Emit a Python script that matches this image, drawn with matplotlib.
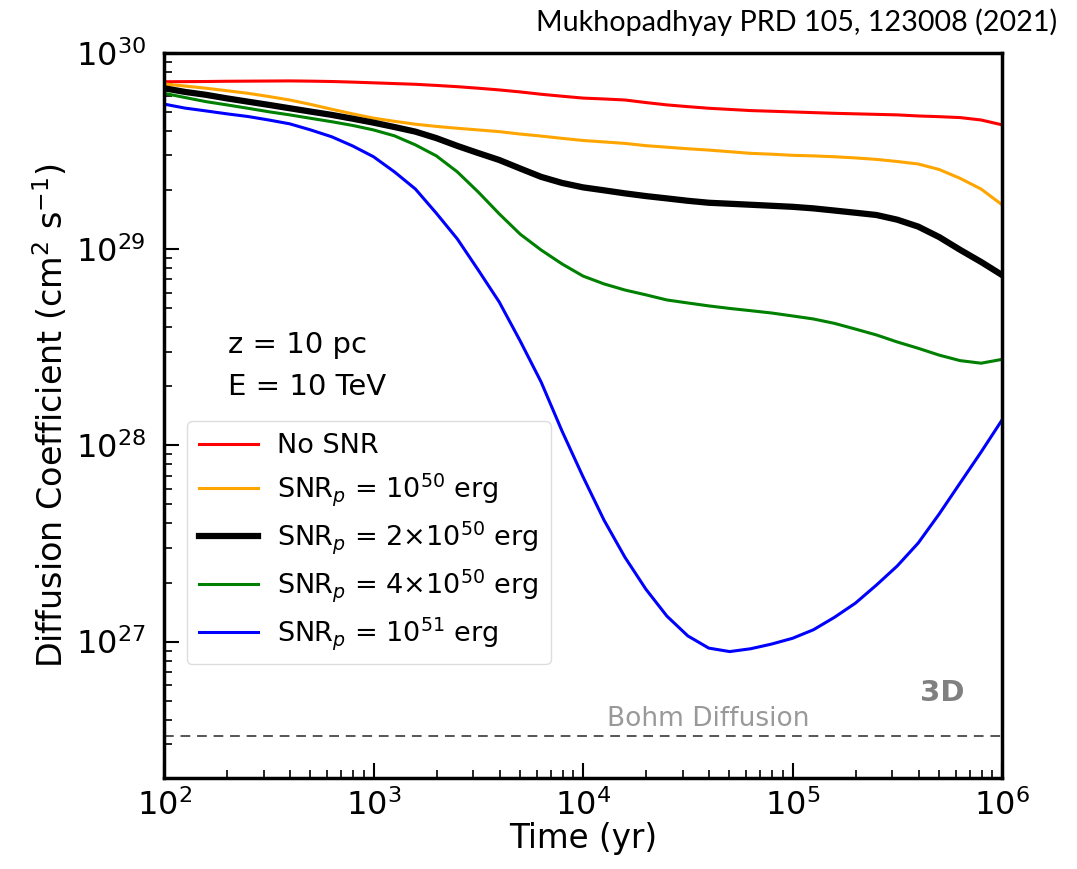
import matplotlib.pyplot as plt

# time grid (yr), 0.1 dex steps from 1e2 to 1e6
mant = [1.0, 1.259, 1.585, 1.995, 2.512, 3.162, 3.981, 5.012, 6.310, 7.943]
time = [m * 10.0**e for e in [2, 3, 4, 5] for m in mant] + [1e6]

d_nosnr = [7.11e29, 7.12e29, 7.13e29, 7.15e29, 7.16e29, 7.17e29, 7.18e29, 7.16e29, 7.13e29, 7.08e29,
           7.02e29, 6.96e29, 6.90e29, 6.81e29, 6.71e29, 6.59e29, 6.46e29, 6.31e29, 6.14e29, 6.00e29,
           5.87e29, 5.81e29, 5.74e29, 5.57e29, 5.42e29, 5.31e29, 5.21e29, 5.14e29, 5.07e29, 5.03e29,
           4.99e29, 4.95e29, 4.91e29, 4.88e29, 4.85e29, 4.82e29, 4.76e29, 4.72e29, 4.67e29, 4.54e29,
           4.29e29]
d_1e50 = [6.93e29, 6.76e29, 6.59e29, 6.40e29, 6.21e29, 5.98e29, 5.74e29, 5.45e29, 5.15e29, 4.88e29,
          4.64e29, 4.47e29, 4.32e29, 4.21e29, 4.12e29, 4.04e29, 3.96e29, 3.85e29, 3.76e29, 3.66e29,
          3.57e29, 3.51e29, 3.45e29, 3.36e29, 3.30e29, 3.24e29, 3.19e29, 3.13e29, 3.07e29, 3.04e29,
          3.00e29, 2.98e29, 2.95e29, 2.91e29, 2.86e29, 2.79e29, 2.71e29, 2.54e29, 2.29e29, 2.02e29,
          1.68e29]
d_2e50 = [6.59e29, 6.31e29, 6.10e29, 5.85e29, 5.63e29, 5.42e29, 5.21e29, 5.01e29, 4.82e29, 4.61e29,
          4.40e29, 4.18e29, 3.96e29, 3.67e29, 3.35e29, 3.08e29, 2.84e29, 2.57e29, 2.33e29, 2.17e29,
          2.06e29, 1.99e29, 1.92e29, 1.86e29, 1.81e29, 1.76e29, 1.72e29, 1.70e29, 1.68e29, 1.66e29,
          1.64e29, 1.61e29, 1.57e29, 1.53e29, 1.49e29, 1.41e29, 1.30e29, 1.15e29, 0.99e29, 0.859e29,
          0.737e29]
d_4e50 = [6.21e29, 5.91e29, 5.63e29, 5.42e29, 5.21e29, 5.00e29, 4.82e29, 4.63e29, 4.45e29, 4.26e29,
          4.04e29, 3.77e29, 3.39e29, 2.98e29, 2.47e29, 1.95e29, 1.51e29, 1.19e29, 9.88e28, 8.39e28,
          7.28e28, 6.64e28, 6.18e28, 5.84e28, 5.50e28, 5.31e28, 5.13e28, 4.98e28, 4.85e28, 4.72e28,
          4.56e28, 4.40e28, 4.18e28, 3.91e28, 3.65e28, 3.36e28, 3.12e28, 2.88e28, 2.70e28, 2.62e28,
          2.74e28]
d_1e51 = [5.47e29, 5.22e29, 5.05e29, 4.88e29, 4.73e29, 4.54e29, 4.34e29, 4.04e29, 3.73e29, 3.35e29,
          2.95e29, 2.47e29, 2.02e29, 1.52e29, 1.125e29, 7.81e28, 5.37e28, 3.40e28, 2.10e28, 1.18e28,
          6.91e27, 4.16e27, 2.69e27, 1.85e27, 1.35e27, 1.07e27, 9.27e26, 8.90e26, 9.20e26, 9.72e26,
          1.04e27, 1.15e27, 1.33e27, 1.57e27, 1.94e27, 2.43e27, 3.18e27, 4.47e27, 6.43e27, 9.24e27,
          1.346e28]

labels = ['No SNR', r'SNR$_p$ = 10$^{50}$ erg', r'SNR$_p$ = 2$\times$10$^{50}$ erg',
          r'SNR$_p$ = 4$\times$10$^{50}$ erg', r'SNR$_p$ = 10$^{51}$ erg']
colors = ['#ff0000', '#ffa500', '#000000', '#008000', '#0000ff']
widths = [2.2, 2.2, 4.5, 2.2, 2.2]
d_bohm = 3.3e26

fig = plt.figure(figsize=(10.77, 8.69), dpi=100)
ax = fig.add_axes([0.1523, 0.1047, 0.7781, 0.8347])

for d, lab, c, w in zip([d_nosnr, d_1e50, d_2e50, d_4e50, d_1e51], labels, colors, widths):
    ax.plot(time, d, color=c, lw=w, label=lab)

ax.axhline(d_bohm, color='#555555', lw=1.4, ls=(0, (5, 3.5)))
ax.text(1.3e4, 3.7e26, 'Bohm Diffusion', color='#999999', fontsize=19)
ax.text(0.955, 0.106, '3D', transform=ax.transAxes, color='#808080', fontsize=21,
        fontweight='bold', ha='right')
ax.text(0.076, 0.586, 'z = 10 pc', transform=ax.transAxes, fontsize=21, va='baseline')
ax.text(0.076, 0.528, 'E = 10 TeV', transform=ax.transAxes, fontsize=21, va='baseline')

ax.set_xscale('log')
ax.set_yscale('log')
ax.set_xlim(1e2, 1e6)
ax.set_ylim(2.02e26, 1e30)
ax.set_xlabel('Time (yr)', fontsize=23.5, labelpad=0)
ax.set_ylabel(r'Diffusion Coefficient (cm$^2$ s$^{-1}$)', fontsize=24, labelpad=4)
ax.tick_params(which='both', direction='in', labelsize=23, top=False, right=False)
ax.tick_params(which='major', length=11, width=1.5)
ax.tick_params(axis='x', which='major', pad=8)
ax.tick_params(axis='y', which='major', pad=13)
ax.tick_params(which='minor', length=6, width=1.2)
for s in ax.spines.values():
    s.set_linewidth(2.5)

leg = ax.legend(loc='upper left', bbox_to_anchor=(0.027, 0.492), borderaxespad=0,
                fontsize=19.5, handlelength=2.2, handletextpad=0.7, labelspacing=0.42,
                borderpad=0.45, framealpha=1, edgecolor='#dddddd')

fig.text(0.982, 0.9747, 'Mukhopadhyay PRD 105, 123008 (2021)', ha='right', va='center',
         fontsize=20.7, family='Lato')

fig.savefig('out.png', dpi=100)
